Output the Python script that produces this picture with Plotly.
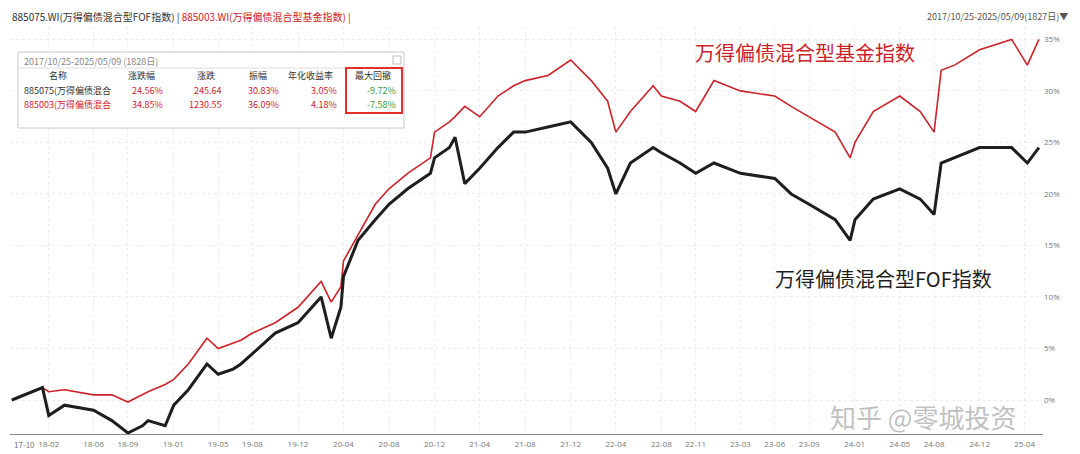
import plotly.graph_objects as go

dates = [
    "2017-10-25", "2018-01-15", "2018-02-01", "2018-03-15", "2018-06-01", "2018-07-20",
    "2018-09-01", "2018-10-10", "2018-10-25", "2018-12-10", "2019-01-02", "2019-02-10",
    "2019-04-01", "2019-05-01", "2019-06-10", "2019-07-01", "2019-08-01", "2019-10-01",
    "2019-12-01", "2020-02-01", "2020-02-28", "2020-03-25", "2020-04-01", "2020-05-10",
    "2020-06-25", "2020-08-01", "2020-09-20", "2020-11-20", "2020-12-01", "2021-01-10",
    "2021-01-25", "2021-02-20", "2021-04-01", "2021-05-20", "2021-07-01", "2021-08-01",
    "2021-10-01", "2021-12-01", "2022-01-25", "2022-03-10", "2022-04-01", "2022-05-10",
    "2022-07-10", "2022-08-01", "2022-09-20", "2022-11-01", "2022-12-20", "2023-03-01",
    "2023-06-01", "2023-07-15", "2023-09-01", "2023-11-10", "2023-12-20", "2024-01-02",
    "2024-02-20", "2024-05-01", "2024-06-25", "2024-08-01", "2024-08-20", "2024-09-25",
    "2024-12-01", "2025-02-25", "2025-04-08", "2025-05-09",
]
fund_idx = [
    0.0, 1.2, 0.8, 1.0, 0.5, 0.5, -0.2, 0.5, 0.8, 1.5, 2.0, 3.5,
    6.0, 5.0, 5.5, 5.8, 6.5, 7.5, 9.0, 11.5, 9.5, 11.0, 13.5, 16.0,
    19.0, 20.5, 22.0, 23.5, 26.0, 27.0, 27.5, 28.5, 27.5, 29.5, 30.5, 31.0,
    31.5, 33.0, 31.0, 29.0, 26.0, 28.0, 30.5, 29.5, 29.0, 28.0, 31.0, 30.0,
    29.5, 28.5, 27.5, 26.0, 23.5, 25.0, 28.0, 29.5, 28.0, 26.0, 32.0, 32.5,
    34.0, 35.0, 32.5, 35.0,
]
fof_idx = [
    0.0, 1.2, -1.5, -0.5, -1.0, -2.0, -3.2, -2.5, -2.0, -2.5, -0.5, 1.0,
    3.5, 2.5, 3.0, 3.5, 4.5, 6.5, 7.5, 10.0, 6.0, 9.0, 12.0, 15.5,
    17.5, 19.0, 20.5, 22.0, 23.5, 24.5, 25.5, 21.0, 22.5, 24.5, 26.0, 26.0,
    26.5, 27.0, 25.0, 22.5, 20.0, 23.0, 24.5, 24.0, 23.0, 22.0, 23.0, 22.0,
    21.5, 20.0, 19.0, 17.5, 15.5, 17.5, 19.5, 20.5, 19.5, 18.0, 23.0, 23.5,
    24.5, 24.5, 23.0, 24.5,
]
tick_dates = ["2018-02-01", "2018-06-01", "2018-09-01", "2019-01-01", "2019-05-01",
              "2019-08-01", "2019-12-01", "2020-04-01", "2020-08-01", "2020-12-01", "2021-04-01",
              "2021-08-01", "2021-12-01", "2022-04-01", "2022-08-01", "2022-11-01", "2023-03-01",
              "2023-06-01", "2023-09-01", "2024-01-01", "2024-05-01", "2024-08-01", "2024-12-01",
              "2025-04-01"]
tick_text = [d[2:7] for d in tick_dates]

table_cols = ["名称", "涨跌幅", "涨跌", "振幅", "年化收益率", "最大回撤"]
row_fof = ["885075(万得偏债混合", "24.56%", "245.64", "30.83%", "3.05%", "-9.72%"]
row_fund = ["885003(万得偏债混合", "34.85%", "1230.55", "36.09%", "4.18%", "-7.58%"]

RED = "#cc2229"
BLACK = "#1e1e1e"
W, H = 1080, 454
L, R, T, B = 2, 45, 18, 28


def px(x):
    return (x - L) / (W - L - R)


def py(y):
    return (H - B - y) / (H - T - B)


fig = go.Figure()
fig.add_trace(go.Scatter(x=dates, y=fund_idx, mode="lines", line=dict(color=RED, width=1.6), name="885003"))
fig.add_trace(go.Scatter(x=dates, y=fof_idx, mode="lines", line=dict(color=BLACK, width=3), name="885075"))

ann = []
def text(x, y, s, size=10, color="#333", xanchor="left", family="Noto Sans CJK SC"):
    ann.append(dict(x=px(x), y=py(y), xref="paper", yref="paper", text=s, showarrow=False,
                    xanchor=xanchor, yanchor="middle", font=dict(size=size, color=color, family=family)))

text(2, 8, "885075.WI(万得偏债混合型FOF指数) | <span style='color:%s'>885003.WI(万得偏债混合型基金指数) |</span>" % RED, size=10)
text(1062, 8, "2017/10/25-2025/05/09(1827日)▼", size=9, color="#555", xanchor="right")
text(685, 45, "万得偏债混合型基金指数", size=20, color=RED)
text(765, 270, "万得偏债混合型FOF指数", size=20, color=BLACK)
text(820, 408, "知乎 @零城投资", size=26, color="rgba(150,150,150,0.6)")
text(16, 437, "17-10", size=8, color="#777", xanchor="center")

# stats table
text(14, 53, "2017/10/25-2025/05/09 (1828日)", size=9, color="#888")
centers = [50, 133, 198, 250, 302, 365]
rights = [None, 157, 215, 273, 331, 390]
for c, h in zip(centers, table_cols):
    text(c, 67, h, size=9, color="#333", xanchor="center")
for yy, row, namecol in [(82, row_fof, "#333"), (97, row_fund, RED)]:
    text(14, yy, row[0], size=9, color=namecol)
    for i in range(1, 6):
        text(rights[i], yy, row[i], size=9, color="#3a9a3a" if i == 5 else RED, xanchor="right")

shapes = [
    dict(type="rect", xref="paper", yref="paper", x0=px(10), x1=px(396), y0=py(120), y1=py(44),
         line=dict(color="#c8c8c8", width=1), fillcolor="rgba(255,255,255,0.95)", layer="above"),
    dict(type="line", xref="paper", yref="paper", x0=px(10), x1=px(396), y0=py(60), y1=py(60),
         line=dict(color="#dddddd", width=1), layer="above"),
    dict(type="rect", xref="paper", yref="paper", x0=px(385), x1=px(393), y0=py(56), y1=py(48),
         line=dict(color="#bbbbbb", width=1), layer="above"),
    dict(type="rect", xref="paper", yref="paper", x0=px(338), x1=px(394), y0=py(105), y1=py(60),
         line=dict(color="#e0302a", width=2), layer="above"),
]
fig.update_layout(
    width=W, height=H, margin=dict(l=L, r=R, t=T, b=B),
    plot_bgcolor="white", paper_bgcolor="white", showlegend=False,
    annotations=ann, shapes=shapes,
    xaxis=dict(type="date", tickvals=tick_dates, ticktext=tick_text, range=["2017-10-20", "2025-05-20"],
               showgrid=True, gridcolor="#ececec", griddash="dot", tickfont=dict(size=8, color="#777"),
               showline=True, linecolor="#888", zeroline=False, ticks="", ticklabelstandoff=2),
    yaxis=dict(side="right", range=[-3.3, 36.3], tickvals=[0, 5, 10, 15, 20, 25, 30, 35],
               ticktext=["0%", "5%", "10%", "15%", "20%", "25%", "30%", "35%"],
               showgrid=True, gridcolor="#ececec", griddash="dot", tickfont=dict(size=8, color="#777"),
               zeroline=False, showline=False),
)
fig.write_html("out.html")
